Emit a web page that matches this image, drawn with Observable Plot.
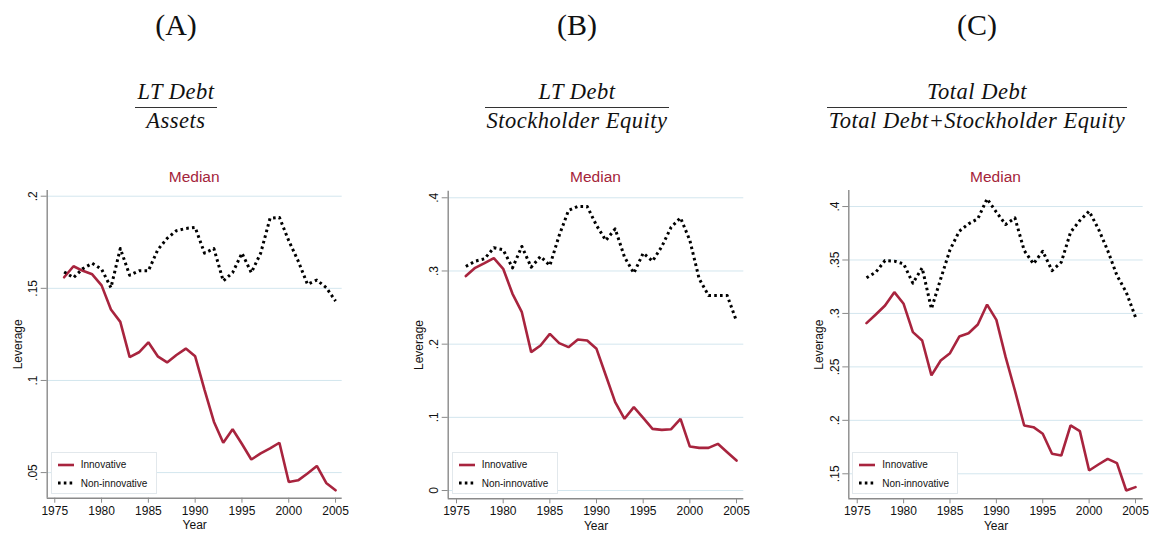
<!DOCTYPE html>
<html>
<head>
<meta charset="utf-8">
<script src="https://cdn.jsdelivr.net/npm/d3@7"></script>
<script src="https://cdn.jsdelivr.net/npm/@observablehq/plot@0.6"></script>
<style>
  body { margin: 0; background: white; }
  #root { position: relative; width: 1155px; height: 533px; background: white; overflow: hidden; font-family: "Liberation Sans", Arial, sans-serif; }
  .abs { position: absolute; }
  .hdr { font-family: "Liberation Serif", "Times New Roman", serif; font-size: 30px; color: #111; text-align: center; width: 200px; line-height: 1; }
  .frac { font-family: "Liberation Serif", "Times New Roman", serif; font-style: italic; font-size: 22.5px; color: #111; text-align: center; line-height: 1; letter-spacing: 0.5px; }
  .frac .num { padding: 0 2px 3px 2px; border-bottom: 1.3px solid #333; white-space: nowrap; }
  .frac .den { padding: 2px 2px 0 2px; white-space: nowrap; }
  .title { font-size: 15.5px; color: #a4243b; text-align: center; width: 200px; line-height: 1; }
  .legend { background: white; border: 1px solid #e2e8ec; box-sizing: border-box; font-size: 10px; color: #111; }
  .legend .row { position: absolute; left: 0; height: 12px; display: flex; align-items: center; }
  .legend svg { display: block; }
</style>
</head>
<body>
<div id="root"></div>
<script>
// ---------- Data ----------
const years = [1976, 1977, 1978, 1979, 1980, 1981, 1982, 1983, 1984, 1985,
               1986, 1987, 1988, 1989, 1990, 1991, 1992, 1993, 1994, 1995,
               1996, 1997, 1998, 1999, 2000, 2001, 2002, 2003, 2004, 2005];

const seriesNames = ["Innovative", "Non-innovative"];
const panelLetters = ["(A)", "(B)", "(C)"];
const numerators = ["LT Debt", "LT Debt", "Total Debt"];
const denominators = ["Assets", "Stockholder Equity", "Total Debt+Stockholder Equity"];
const panelTitle = "Median";
const yLabel = "Leverage";
const xLabel = "Year";

// Panel A: LT Debt / Assets
const aInnov = [0.156, 0.162, 0.1595, 0.1576, 0.1516, 0.1385, 0.1318, 0.1127, 0.1153, 0.1207,
                0.1131, 0.1098, 0.1138, 0.1173, 0.1131, 0.0949, 0.0776, 0.0662, 0.0735, 0.0655,
                0.0571, 0.0604, 0.0631, 0.0662, 0.0449, 0.0458, 0.0495, 0.0536, 0.0444, 0.0404];
const aNon   = [0.1589, 0.1558, 0.1607, 0.1636, 0.1604, 0.1504, 0.1716, 0.1571, 0.1595, 0.1595,
                0.1709, 0.1771, 0.1813, 0.1825, 0.1831, 0.1691, 0.1716, 0.154, 0.1585, 0.1691,
                0.1585, 0.1691, 0.188, 0.1885, 0.1758, 0.1649, 0.1522, 0.1545, 0.1504, 0.1431];

// Panel B: LT Debt / Stockholder Equity
const bInnov = [0.293, 0.3043, 0.3107, 0.3175, 0.303, 0.2688, 0.2437, 0.1891, 0.1982, 0.2141,
                0.2014, 0.1959, 0.2064, 0.205, 0.1936, 0.1572, 0.1207, 0.098, 0.1139, 0.0993,
                0.0843, 0.0829, 0.0838, 0.098, 0.0601, 0.0583, 0.0583, 0.0638, 0.0524, 0.041];
const bNon   = [0.3062, 0.3134, 0.3166, 0.3317, 0.3289, 0.3043, 0.3335, 0.3052, 0.3198, 0.3075,
                0.3485, 0.3827, 0.3882, 0.3882, 0.3622, 0.3417, 0.3576, 0.3189, 0.297, 0.3244,
                0.3134, 0.3335, 0.3599, 0.3727, 0.3417, 0.2893, 0.2665, 0.2665, 0.2665, 0.2314];

// Panel C: Total Debt / (Total Debt + Stockholder Equity)
const cInnov = [0.2909, 0.299, 0.3074, 0.3199, 0.309, 0.2825, 0.2747, 0.242, 0.256, 0.2628,
                0.2784, 0.2815, 0.2897, 0.3083, 0.294, 0.2591, 0.2279, 0.1952, 0.1936, 0.1874,
                0.1687, 0.1671, 0.1952, 0.1899, 0.1531, 0.1587, 0.164, 0.16, 0.1344, 0.1375];
const cNon   = [0.3333, 0.3386, 0.3495, 0.3489, 0.3464, 0.3283, 0.3426, 0.3043, 0.3324, 0.3595,
                0.3769, 0.3838, 0.3885, 0.4072, 0.3947, 0.3832, 0.3894, 0.3589, 0.3464, 0.3582,
                0.3401, 0.3479, 0.376, 0.3869, 0.3956, 0.3791, 0.3589, 0.3355, 0.3199, 0.2965];

const xTicks = [1975, 1980, 1985, 1990, 1995, 2000, 2005];
const yTicksA = [0.05, 0.1, 0.15, 0.2];
const yTicksB = [0, 0.1, 0.2, 0.3, 0.4];
const yTicksC = [0.15, 0.2, 0.25, 0.3, 0.35, 0.4];

// ---------- Styles / layout ----------
const RED = "#a8243e";
const GRID = "#d3e6ee";
const AXIS = "#8a8a8a";
const SVG_TOP = 186, SVG_H = 347;

const panels = [
  { letter: panelLetters[0], num: numerators[0], den: denominators[0], innov: aInnov, non: aNon, yTicks: yTicksA,
    left: 0, width: 360, mL: 46.7, mR: 18.3, mT: 4, mB: 35.3,
    yDom: [0.0361, 0.2031], xDom: [1974.19, 2005.71], center: 176 },
  { letter: panelLetters[1], num: numerators[1], den: denominators[1], innov: bInnov, non: bNon, yTicks: yTicksB,
    left: 395, width: 360, mL: 52.7, mR: 11.7, mT: 4.7, mB: 34.7,
    yDom: [-0.0113, 0.409], xDom: [1974.11, 2005.78], center: 577 },
  { letter: panelLetters[2], num: numerators[2], den: denominators[2], innov: cInnov, non: cNon, yTicks: yTicksC,
    left: 790, width: 365, mL: 58.3, mR: 12.3, mT: 4, mB: 34.7,
    yDom: [0.1266, 0.415], xDom: [1974.09, 2005.83], center: 977 }
];

const fmtY = d => d === 0 ? "0" : String(d).replace(/^0/, "");

const root = document.getElementById("root");

function el(tag, cls, style, text) {
  const e = document.createElement(tag);
  if (cls) e.className = cls;
  if (style) Object.assign(e.style, style);
  if (text != null) e.textContent = text;
  return e;
}

panels.forEach(p => {
  // Header letter
  root.appendChild(el("div", "abs hdr", { left: (p.center - 100) + "px", top: "10px" }, p.letter));

  // Fraction
  const frac = el("div", "abs frac", {});
  const num = el("div", "num", {}, p.num);
  const den = el("div", "den", {}, p.den);
  frac.appendChild(num); frac.appendChild(den);
  root.appendChild(frac);
  const fw = frac.getBoundingClientRect().width;
  frac.style.left = (p.center - fw / 2) + "px";
  frac.style.top = "81px";

  // Title "Median"
  const plotCenter = p.left + p.mL + (p.width - p.mL - p.mR) / 2;
  root.appendChild(el("div", "abs title", { left: (plotCenter - 100) + "px", top: "169px" }, panelTitle));

  // Data rows
  const rowsInnov = years.map((y, i) => ({ year: y, value: p.innov[i], series: seriesNames[0] }));
  const rowsNon = years.map((y, i) => ({ year: y, value: p.non[i], series: seriesNames[1] }));

  const chart = Plot.plot({
    width: p.width,
    height: SVG_H,
    marginLeft: p.mL, marginRight: p.mR, marginTop: p.mT, marginBottom: p.mB,
    x: { domain: p.xDom, label: null },
    y: { domain: p.yDom, label: null },
    style: { fontFamily: "'Liberation Sans', Arial, sans-serif", fontSize: "12px", background: "transparent", overflow: "visible", color: "#111" },
    marks: [
      Plot.gridY(p.yTicks, { stroke: GRID, strokeOpacity: 1, strokeWidth: 1 }),
      Plot.axisY(p.yTicks, { tickFormat: fmtY, tickRotate: -90, tickSize: 6, tickPadding: 4, stroke: AXIS, fill: "#111",
        label: yLabel, labelAnchor: "center", labelArrow: "none", labelOffset: 34, fontSize: 12 }),
      Plot.axisX(xTicks, { tickFormat: d => String(d), tickSize: 5, tickPadding: 3, stroke: AXIS, fill: "#111",
        label: xLabel, labelAnchor: "center", labelArrow: "none", labelOffset: 31, fontSize: 12 }),
      Plot.ruleX([p.xDom[0]], { stroke: AXIS, strokeWidth: 1.4 }),
      Plot.ruleY([p.yDom[0]], { stroke: AXIS, strokeWidth: 1.4 }),
      Plot.line(rowsInnov, { x: "year", y: "value", stroke: RED, strokeWidth: 2.6, strokeLinejoin: "miter" }),
      Plot.line(rowsNon, { x: "year", y: "value", stroke: "#000", strokeWidth: 3, strokeDasharray: "2.6 3.2", strokeLinecap: "butt" })
    ]
  });
  chart.style.position = "absolute";
  chart.style.left = p.left + "px";
  chart.style.top = SVG_TOP + "px";
  root.appendChild(chart);

  // Legend (inside plot region, lower left)
  const lg = el("div", "abs legend", { left: (p.left + p.mL + 4) + "px", top: "451.5px", width: "106px", height: "42px" });
  const mk = (top, dash, color, label) => {
    const row = el("div", "row", { top: top + "px", left: "5px" });
    const svg = document.createElementNS("http://www.w3.org/2000/svg", "svg");
    svg.setAttribute("width", "18"); svg.setAttribute("height", "12");
    const ln = document.createElementNS("http://www.w3.org/2000/svg", "line");
    ln.setAttribute("x1", "1"); ln.setAttribute("x2", "17"); ln.setAttribute("y1", "6"); ln.setAttribute("y2", "6");
    ln.setAttribute("stroke", color); ln.setAttribute("stroke-width", dash ? "3" : "2.6");
    if (dash) ln.setAttribute("stroke-dasharray", "2.6 3.2");
    svg.appendChild(ln);
    row.appendChild(svg);
    row.appendChild(el("span", null, { marginLeft: "6px" }, label));
    lg.appendChild(row);
  };
  mk(6, false, RED, seriesNames[0]);
  mk(24.5, true, "#000", seriesNames[1]);
  root.appendChild(lg);
});
</script>
</body>
</html>
